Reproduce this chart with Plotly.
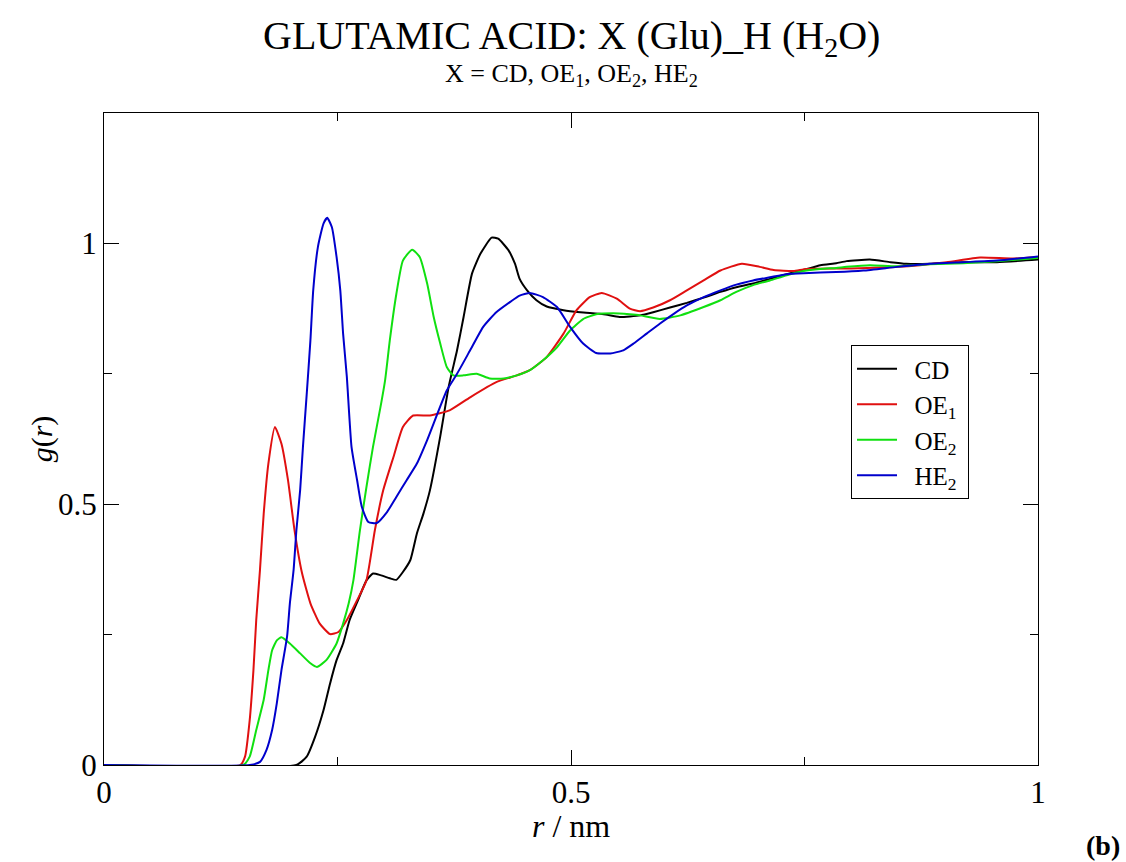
import plotly.graph_objects as go

# ---- data ----
r_cd = [0, .206, .217, .226, .235, .242, .249, .256, .263, .272, .281, .288, .296, .306, .313, .320, .328, .335, .342, .349, .360, .369, .378, .385, .394, .403, .415, .422, .433, .440, .445, .453, .463, .474, .492, .510, .535, .552, .574, .588, .606, .624, .642, .660, .677, .695, .713, .731, .749, .767, .784, .795, .820, .842, .859, .884, .920, .956, 1.0]
g_cd = [0, 0, .016, .054, .105, .156, .201, .233, .278, .316, .354, .367, .364, .358, .355, .370, .393, .444, .482, .527, .630, .725, .795, .859, .942, .980, 1.011, 1.009, .987, .961, .932, .910, .891, .879, .872, .868, .864, .859, .862, .868, .877, .886, .896, .907, .916, .923, .932, .941, .949, .958, .962, .966, .969, .964, .961, .961, .964, .964, .969]

r_oe1 = [0, .146, .151, .156, .160, .163, .167, .171, .176, .183, .190, .197, .204, .212, .221, .231, .242, .251, .260, .271, .281, .290, .299, .310, .320, .331, .349, .370, .392, .420, .442, .456, .474, .492, .506, .520, .533, .549, .563, .574, .588, .606, .624, .642, .660, .683, .702, .717, .738, .752, .800, .850, .902, .938, .973, 1.0]
g_oe1 = [0, 0, .016, .086, .182, .278, .374, .482, .578, .648, .616, .546, .450, .368, .310, .271, .251, .255, .278, .316, .354, .450, .527, .591, .648, .670, .670, .680, .705, .734, .747, .757, .782, .827, .872, .897, .905, .894, .875, .870, .877, .891, .910, .929, .948, .961, .955, .949, .947, .951, .952, .955, .964, .973, .971, .974]

r_oe2 = [0, .149, .156, .163, .171, .176, .180, .185, .190, .199, .210, .221, .228, .238, .249, .256, .262, .267, .274, .281, .288, .296, .301, .306, .313, .320, .330, .338, .346, .353, .360, .367, .374, .385, .399, .413, .428, .442, .456, .470, .485, .499, .513, .527, .545, .563, .574, .595, .617, .642, .660, .677, .695, .713, .731, .749, .767, .784, .795, .820, .849, .884, .920, .956, 1.0]
g_oe2 = [0, 0, .016, .067, .125, .182, .220, .239, .245, .233, .214, .195, .188, .201, .233, .271, .310, .354, .450, .533, .610, .686, .738, .814, .903, .967, .988, .974, .923, .859, .808, .763, .747, .747, .750, .741, .741, .747, .757, .776, .801, .833, .855, .864, .866, .864, .862, .855, .862, .878, .891, .907, .920, .929, .939, .947, .951, .953, .955, .958, .956, .960, .962, .966, .972]

r_he2 = [0, .156, .167, .174, .180, .185, .190, .196, .199, .203, .206, .210, .213, .217, .221, .224, .229, .235, .239, .244, .249, .253, .256, .260, .265, .271, .276, .283, .292, .303, .313, .324, .335, .346, .367, .378, .392, .406, .420, .435, .445, .456, .470, .485, .499, .513, .527, .542, .556, .567, .581, .595, .610, .624, .642, .660, .677, .695, .713, .731, .749, .784, .813, .849, .884, .920, .956, 1.0]
g_he2 = [0, 0, .006, .029, .067, .118, .182, .246, .310, .374, .450, .527, .610, .710, .814, .910, .993, 1.038, 1.049, 1.031, .974, .910, .827, .744, .610, .546, .495, .466, .464, .485, .514, .546, .578, .623, .718, .750, .795, .840, .868, .888, .900, .905, .897, .878, .840, .808, .790, .789, .795, .808, .827, .846, .865, .881, .897, .910, .921, .929, .935, .941, .943, .945, .948, .955, .961, .964, .967, .975]

series_names = ["&nbsp;&nbsp;CD&nbsp;", "&nbsp;&nbsp;OE<sub>1</sub>&nbsp;",
                "&nbsp;&nbsp;OE<sub>2</sub>&nbsp;", "&nbsp;&nbsp;HE<sub>2</sub>&nbsp;"]
series_colors = ["#000000", "#e01010", "#10e010", "#0000cc"]

x_tickvals = [0, 0.5, 1]
x_ticktext = ["0", "0.5", "1"]
y_tickvals = [0, 0.5, 1]
y_ticktext = ["0", "0.5", "1"]

FONT = "Liberation Serif"

fig = go.Figure()
for rr, gg, name, col in zip([r_cd, r_oe1, r_oe2, r_he2],
                             [g_cd, g_oe1, g_oe2, g_he2],
                             series_names, series_colors):
    fig.add_trace(go.Scatter(x=rr, y=gg, mode="lines", name=name,
                             line=dict(color=col, width=2, shape="spline", smoothing=0.5)))

axis_common = dict(showgrid=False, zeroline=False, showline=True, linecolor="black",
                   linewidth=1, mirror="allticks", ticks="inside", ticklen=15,
                   tickcolor="black", tickwidth=1,
                   tickfont=dict(family=FONT, size=31, color="black"),
                   minor=dict(ticks="inside", ticklen=8, tickcolor="black", tickwidth=1,
                              tickvals=[0.25, 0.75]))

fig.update_xaxes(range=[0, 1], tickvals=x_tickvals, ticktext=x_ticktext, **axis_common)
fig.update_yaxes(range=[0, 1.25], tickvals=y_tickvals, ticktext=y_ticktext, **axis_common)

fig.update_layout(
    width=1126, height=862,
    margin=dict(l=104, r=88, t=113, b=97),
    paper_bgcolor="white", plot_bgcolor="white",
    font=dict(family=FONT, color="black"),
    showlegend=True,
    legend=dict(x=0.7998, y=0.644, xanchor="left", yanchor="top",
                bgcolor="white", bordercolor="black", borderwidth=1,
                font=dict(family=FONT, size=25, color="black"),
                tracegroupgap=0, itemwidth=40),
    annotations=[
        dict(text="GLUTAMIC ACID: X (Glu)_H (H<sub>2</sub>O)", x=0.5, y=1.115,
             xref="paper", yref="paper", xanchor="center", yanchor="middle",
             showarrow=False, font=dict(family=FONT, size=40, color="black")),
        dict(text="X = CD, OE<sub>1</sub>, OE<sub>2</sub>, HE<sub>2</sub>", x=0.5, y=1.058,
             xref="paper", yref="paper", xanchor="center", yanchor="middle",
             showarrow=False, font=dict(family=FONT, size=26, color="black")),
        dict(text="<i>g</i>(<i>r</i>)", x=-0.066, y=0.5, textangle=-90,
             xref="paper", yref="paper", xanchor="center", yanchor="middle",
             showarrow=False, font=dict(family=FONT, size=30, color="black")),
        dict(text="<i>r</i> / nm", x=0.5, y=-0.093,
             xref="paper", yref="paper", xanchor="center", yanchor="middle",
             showarrow=False, font=dict(family=FONT, size=32, color="black")),
        dict(text="<b>(b)</b>", x=1.07, y=-0.124,
             xref="paper", yref="paper", xanchor="center", yanchor="middle",
             showarrow=False, font=dict(family=FONT, size=28, color="black")),
    ],
)

fig.write_html("out.html")
